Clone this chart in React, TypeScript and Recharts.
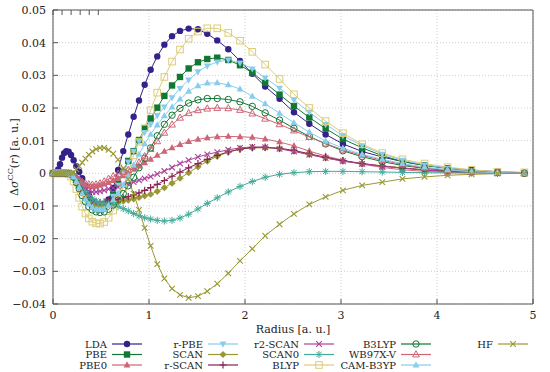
import { CartesianGrid, Line, LineChart, XAxis, YAxis } from "recharts";

// radial grid (a. u.)
const radius = [
  0, 0.018, 0.035, 0.054, 0.073, 0.094, 0.116, 0.138, 0.163, 0.188,
  0.215, 0.243, 0.273, 0.304, 0.338, 0.373, 0.41, 0.449, 0.49, 0.533,
  0.579, 0.627, 0.678, 0.732, 0.784, 0.84, 0.896, 0.955, 1.017, 1.086,
  1.16, 1.24, 1.323, 1.413, 1.51, 1.607, 1.711, 1.826, 1.948, 2.076,
  2.21, 2.36, 2.51, 2.67, 2.84, 3.02, 3.22, 3.43, 3.64, 3.87,
  4.11, 4.36, 4.63, 4.91
];

const lda = [
  0, 0, 0.0003, 0.0012, 0.0028, 0.0048, 0.0062, 0.0068, 0.0066, 0.0056,
  0.004, 0.0022, 0.0005, -0.0015, -0.004, -0.0065, -0.0085, -0.0098, -0.0103, -0.0098,
  -0.008, -0.0045, 0.001, 0.0068, 0.0119, 0.0173, 0.0223, 0.0271, 0.0317, 0.0358,
  0.0394, 0.042, 0.0436, 0.0443, 0.0441, 0.0427, 0.0407, 0.038, 0.0344, 0.0305,
  0.0266, 0.0228, 0.0187, 0.0152, 0.0119, 0.009, 0.0067, 0.005, 0.0036, 0.0025,
  0.0016, 0.001, 0.0005, 0.0002
];
const pbe = [
  0, 0, 0, 0, 0, 0, 0, 0, 0, -0.0003,
  -0.001, -0.0023, -0.004, -0.0058, -0.0074, -0.0088, -0.0097, -0.0103, -0.0105, -0.0102,
  -0.0088, -0.0065, -0.0032, 0.0005, 0.0038, 0.0068, 0.0102, 0.0137, 0.0168, 0.0201,
  0.0237, 0.0269, 0.0295, 0.0321, 0.034, 0.035, 0.0354, 0.0347, 0.0331, 0.0308,
  0.0277, 0.0241, 0.0206, 0.0171, 0.0137, 0.0105, 0.0078, 0.0054, 0.0036, 0.0024,
  0.0015, 0.0008, 0.0004, 0.0001
];
const pbe0 = [
  0, 0, 0, 0, 0, 0, 0, 0, 0, -0.0002,
  -0.0007, -0.0014, -0.0022, -0.003, -0.0036, -0.004, -0.0041, -0.004, -0.0037, -0.0033,
  -0.0028, -0.0022, -0.0015, -0.0008, 0.0001, 0.0012, 0.0022, 0.0032, 0.0043, 0.0055,
  0.0067, 0.0078, 0.0088, 0.0097, 0.0104, 0.0109, 0.0112, 0.0113, 0.0112, 0.011,
  0.0105, 0.0096, 0.0084, 0.0068, 0.0053, 0.004, 0.0028, 0.0018, 0.0011, 0.0006,
  0.0003, 0.0002, 0.0001, 0
];
const rPbe = [
  0, 0, 0, 0, 0, 0, 0, 0, 0, -0.0003,
  -0.0011, -0.0025, -0.0043, -0.0062, -0.0079, -0.0093, -0.0103, -0.0109, -0.0111, -0.0107,
  -0.0093, -0.007, -0.0036, 0.0002, 0.0035, 0.0068, 0.0098, 0.0125, 0.015, 0.0177,
  0.0203, 0.0232, 0.026, 0.0286, 0.0311, 0.0329, 0.0341, 0.0347, 0.0338, 0.032,
  0.0292, 0.0261, 0.0225, 0.0187, 0.015, 0.0115, 0.0085, 0.0059, 0.004, 0.0026,
  0.0016, 0.0009, 0.0004, 0.0001
];
const scan = [
  0, 0, 0, 0, 0, 0, 0, 0, 0, -0.0003,
  -0.001, -0.0022, -0.0037, -0.0053, -0.0068, -0.0081, -0.009, -0.0096, -0.0098, -0.0097,
  -0.0094, -0.0091, -0.0088, -0.0085, -0.0082, -0.0078, -0.0074, -0.0069, -0.0064, -0.0055,
  -0.0044, -0.003, -0.0015, 0.0002, 0.002, 0.0037, 0.0052, 0.0065, 0.0074, 0.0078,
  0.0078, 0.0075, 0.0068, 0.0058, 0.0047, 0.0038, 0.003, 0.0023, 0.0017, 0.0011,
  0.0007, 0.0004, 0.0002, 0
];
const rScan = [
  0, 0, 0, 0, 0, 0, 0, 0, 0, -0.0003,
  -0.001, -0.0021, -0.0035, -0.005, -0.0063, -0.0074, -0.0082, -0.0087, -0.0089, -0.0088,
  -0.0085, -0.0082, -0.0079, -0.0075, -0.0071, -0.0066, -0.006, -0.0052, -0.0044, -0.0034,
  -0.0022, -0.0009, 0.0004, 0.0017, 0.003, 0.0043, 0.0055, 0.0066, 0.0074, 0.0079,
  0.008, 0.0077, 0.007, 0.006, 0.0049, 0.0039, 0.003, 0.0022, 0.0016, 0.001,
  0.0006, 0.0003, 0.0001, 0
];
const r2Scan = [
  0, 0, 0, 0, 0, 0, 0, 0, 0, -0.0002,
  -0.0008, -0.0017, -0.0028, -0.0039, -0.0048, -0.0054, -0.0057, -0.0057, -0.0055, -0.0052,
  -0.0048, -0.0045, -0.0042, -0.0038, -0.0033, -0.0027, -0.0021, -0.0016, -0.001, -0.0002,
  0.0007, 0.0018, 0.003, 0.004, 0.005, 0.0058, 0.0065, 0.0072, 0.0078, 0.0081,
  0.008, 0.0075, 0.0067, 0.0057, 0.0047, 0.0037, 0.0029, 0.0022, 0.0016, 0.001,
  0.0006, 0.0003, 0.0001, 0
];
const scan0 = [
  0, 0, 0, 0, 0, 0, 0, 0, 0, -0.0002,
  -0.0006, -0.0015, -0.0028, -0.0042, -0.0056, -0.0068, -0.0078, -0.0085, -0.009, -0.0092,
  -0.0094, -0.0097, -0.0102, -0.0108, -0.0115, -0.0123, -0.013, -0.0136, -0.014, -0.0144,
  -0.0146, -0.0144, -0.0137, -0.0125, -0.0109, -0.0092, -0.0075, -0.0057, -0.004, -0.0025,
  -0.0012, -0.0003, 0.0002, 0.0005, 0.0006, 0.0006, 0.0005, 0.0004, 0.0003, 0.0002,
  0.0001, 0.0001, 0, 0
];
const blyp = [
  0, 0, 0, 0, 0, 0, 0, 0, -0.0003, -0.001,
  -0.0025, -0.0048, -0.0075, -0.0102, -0.0123, -0.0138, -0.0148, -0.0153, -0.0154, -0.0149,
  -0.0136, -0.0114, -0.0082, -0.0042, 0.0005, 0.0055, 0.0097, 0.0138, 0.0193, 0.0247,
  0.0295, 0.0342, 0.0379, 0.0412, 0.0434, 0.0444, 0.0444, 0.043, 0.0406, 0.0372,
  0.0333, 0.0289, 0.0242, 0.02, 0.016, 0.0123, 0.0089, 0.0062, 0.0043, 0.003,
  0.0019, 0.0011, 0.0005, 0.0003
];
const b3lyp = [
  0, 0, 0, 0, 0, 0, 0, 0, 0, -0.0003,
  -0.0012, -0.0028, -0.0047, -0.0068, -0.0087, -0.0102, -0.0112, -0.0118, -0.012, -0.0118,
  -0.011, -0.0097, -0.0082, -0.0062, -0.0038, -0.0012, 0.0017, 0.0046, 0.0078, 0.0115,
  0.015, 0.0178, 0.0199, 0.0215, 0.0225, 0.0229, 0.0229, 0.0226, 0.0219, 0.0205,
  0.0185, 0.0163, 0.0138, 0.0113, 0.009, 0.0069, 0.0051, 0.0036, 0.0024, 0.0015,
  0.0009, 0.0005, 0.0002, 0
];
const wb97xv = [
  0, 0, 0, 0, 0, 0, 0, 0, 0, -0.0002,
  -0.0006, -0.0012, -0.0019, -0.0026, -0.0031, -0.0034, -0.0035, -0.0034, -0.0031, -0.0025,
  -0.0017, -0.0009, -0.0002, 0.0004, 0.001, 0.0019, 0.0033, 0.0052, 0.0074, 0.0098,
  0.0124, 0.0149, 0.017, 0.0184, 0.0193, 0.0198, 0.02, 0.0199, 0.0194, 0.0183,
  0.0167, 0.015, 0.0131, 0.0111, 0.0091, 0.0072, 0.0055, 0.004, 0.0027, 0.0017,
  0.001, 0.0005, 0.0002, 0
];
const camB3yp = [
  0, 0, 0, 0, 0, 0, 0, 0, 0, -0.0003,
  -0.0011, -0.0025, -0.0043, -0.0062, -0.0079, -0.0094, -0.0104, -0.011, -0.0112, -0.011,
  -0.0099, -0.0082, -0.0061, -0.0035, -0.0008, 0.0025, 0.0058, 0.009, 0.0119, 0.0148,
  0.0176, 0.0203, 0.0227, 0.0251, 0.0268, 0.0276, 0.0277, 0.0271, 0.0258, 0.0236,
  0.0213, 0.0184, 0.0155, 0.0126, 0.0099, 0.0077, 0.0058, 0.0043, 0.003, 0.0019,
  0.0011, 0.0005, 0.0002, 0
];
const hf = [
  0, 0, 0, 0, 0, 0, 0, 0, 0, 0,
  0.0003, 0.0012, 0.0022, 0.0033, 0.0045, 0.0057, 0.0067, 0.0074, 0.0078, 0.0078,
  0.0072, 0.006, 0.0042, 0.0015, -0.0018, -0.0062, -0.0112, -0.0167, -0.0222, -0.0278,
  -0.0322, -0.0353, -0.0372, -0.0381, -0.0376, -0.0361, -0.0338, -0.0306, -0.0268, -0.0231,
  -0.0191, -0.0156, -0.0124, -0.0095, -0.0072, -0.0052, -0.0037, -0.0027, -0.0017, -0.0011,
  -0.0006, -0.0003, -0.0001, 0
];

const xTicks = [0, 1, 2, 3, 4, 5];
const yTicks = [-0.04, -0.03, -0.02, -0.01, 0, 0.01, 0.02, 0.03, 0.04, 0.05];

type Shape =
  | "circle"
  | "square"
  | "triUp"
  | "triDown"
  | "diamond"
  | "plus"
  | "cross"
  | "star"
  | "openSquare"
  | "openCircle"
  | "openTri";

const series: { key: string; values: number[]; color: string; shape: Shape }[] = [
  { key: "LDA", values: lda, color: "#332288", shape: "circle" },
  { key: "PBE", values: pbe, color: "#117733", shape: "square" },
  { key: "PBE0", values: pbe0, color: "#CC6677", shape: "triUp" },
  { key: "r-PBE", values: rPbe, color: "#88CCEE", shape: "triDown" },
  { key: "SCAN", values: scan, color: "#999933", shape: "diamond" },
  { key: "r-SCAN", values: rScan, color: "#882255", shape: "plus" },
  { key: "r2-SCAN", values: r2Scan, color: "#AA4499", shape: "cross" },
  { key: "SCAN0", values: scan0, color: "#44AA99", shape: "star" },
  { key: "BLYP", values: blyp, color: "#DDCC77", shape: "openSquare" },
  { key: "B3LYP", values: b3lyp, color: "#117733", shape: "openCircle" },
  { key: "WB97X-V", values: wb97xv, color: "#CC6677", shape: "openTri" },
  { key: "CAM-B3YP", values: camB3yp, color: "#88CCEE", shape: "triUp" },
  { key: "HF", values: hf, color: "#999933", shape: "cross" }
];

const data = radius.map((r, i) => {
  const row: Record<string, number> = { r };
  series.forEach((s) => {
    row[s.key] = s.values[i];
  });
  return row;
});

const FONT = '"DejaVu Serif", "Liberation Serif", serif';

const formatY = (v: number) => {
  if (Math.abs(v) < 1e-9) return "0";
  return (v < 0 ? "\u2212" : "") + Math.abs(v).toFixed(2);
};

function marker(shape: Shape, color: string, cx: number, cy: number, key: string) {
  switch (shape) {
    case "circle":
      return <circle key={key} cx={cx} cy={cy} r={3.2} fill={color} />;
    case "square":
      return <rect key={key} x={cx - 3.2} y={cy - 3.2} width={6.4} height={6.4} fill={color} />;
    case "triUp":
      return (
        <polygon
          key={key}
          points={`${cx},${cy - 3.8} ${cx - 3.4},${cy + 2.4} ${cx + 3.4},${cy + 2.4}`}
          fill={color}
        />
      );
    case "triDown":
      return (
        <polygon
          key={key}
          points={`${cx},${cy + 3.8} ${cx - 3.4},${cy - 2.4} ${cx + 3.4},${cy - 2.4}`}
          fill={color}
        />
      );
    case "diamond":
      return (
        <polygon
          key={key}
          points={`${cx},${cy - 3.6} ${cx + 3.6},${cy} ${cx},${cy + 3.6} ${cx - 3.6},${cy}`}
          fill={color}
        />
      );
    case "plus":
      return (
        <path
          key={key}
          d={`M${cx - 3.6},${cy}H${cx + 3.6}M${cx},${cy - 3.6}V${cy + 3.6}`}
          stroke={color}
          strokeWidth={1.2}
        />
      );
    case "cross":
      return (
        <path
          key={key}
          d={`M${cx - 2.8},${cy - 2.8}L${cx + 2.8},${cy + 2.8}M${cx - 2.8},${cy + 2.8}L${cx + 2.8},${cy - 2.8}`}
          stroke={color}
          strokeWidth={1.1}
        />
      );
    case "star":
      return (
        <path
          key={key}
          d={`M${cx - 3.6},${cy}H${cx + 3.6}M${cx},${cy - 3.6}V${cy + 3.6}M${cx - 2.6},${cy - 2.6}L${cx + 2.6},${cy + 2.6}M${cx - 2.6},${cy + 2.6}L${cx + 2.6},${cy - 2.6}`}
          stroke={color}
          strokeWidth={1}
        />
      );
    case "openSquare":
      return (
        <rect
          key={key}
          x={cx - 3.3}
          y={cy - 3.3}
          width={6.6}
          height={6.6}
          fill="none"
          stroke={color}
          strokeWidth={1}
        />
      );
    case "openCircle":
      return <circle key={key} cx={cx} cy={cy} r={3.2} fill="none" stroke={color} strokeWidth={1} />;
    case "openTri":
      return (
        <polygon
          key={key}
          points={`${cx},${cy - 3.8} ${cx - 3.4},${cy + 2.4} ${cx + 3.4},${cy + 2.4}`}
          fill="none"
          stroke={color}
          strokeWidth={1}
        />
      );
    default:
      return <g key={key} />;
  }
}

// legend: 3 rows, column-major, text right-aligned before the sample
const legendRows = [344, 354.5, 365];
const legendCols = [107, 203, 299, 396, 493];

function Overlay() {
  const txt = { fontFamily: FONT, fontSize: 12, fill: "#222" };
  return (
    <svg
      width={550}
      height={372}
      style={{ position: "absolute", left: 0, top: 0, pointerEvents: "none" }}
    >
      <text
        transform="translate(14,157) rotate(-90)"
        textAnchor="middle"
        dy="0.35em"
        style={{ ...txt, fontSize: 11 }}
      >
        <tspan>Δ</tspan>
        <tspan fontStyle="italic">σ</tspan>
        <tspan fontSize={8} dy={-4.5}>CC</tspan>
        <tspan dy={4.5}>(</tspan>
        <tspan fontStyle="italic">r</tspan>
        <tspan>) [a. u.]</tspan>
      </text>
      <text x={293} y={333} textAnchor="middle" style={{ ...txt, fontSize: 11 }}>
        Radius [a. u.]
      </text>
      {series.map((s, i) => {
        const col = Math.floor(i / 3);
        const y = legendRows[i % 3];
        const right = legendCols[col];
        return (
          <g key={s.key}>
            <text x={right} y={y + 3.5} textAnchor="end" style={{ ...txt, fontSize: 10 }}>
              {s.key}
            </text>
            <line x1={right + 5} x2={right + 35} y1={y} y2={y} stroke={s.color} strokeWidth={1.2} />
            {marker(s.shape, s.color, right + 20, y, `lg-${s.key}`)}
          </g>
        );
      })}
    </svg>
  );
}

export default function App() {
  const tickStyle = { fontSize: 11, fill: "#222", style: { fontFamily: FONT } };
  return (
    <div
      style={{
        position: "absolute",
        left: 0,
        top: 0,
        width: 550,
        height: 372,
        background: "#fff",
        fontFamily: FONT
      }}
    >
      <LineChart
        width={550}
        height={372}
        data={data}
        margin={{ top: 0, right: 0, bottom: 0, left: 0 }}
        style={{ fontFamily: FONT }}
      >
        <CartesianGrid stroke="#cfcfcf" strokeDasharray="1 2" />
        <XAxis
          dataKey="r"
          type="number"
          domain={[0, 5]}
          ticks={xTicks}
          interval={0}
          height={68}
          tickSize={-5}
          tickMargin={12}
          tick={tickStyle}
          axisLine={{ stroke: "#555" }}
          tickLine={{ stroke: "#555" }}
        />
        <XAxis
          xAxisId="top"
          orientation="top"
          type="number"
          domain={[0, 5]}
          ticks={xTicks}
          interval={0}
          height={10}
          tickSize={-5}
          tickFormatter={() => ""}
          axisLine={{ stroke: "#555" }}
          tickLine={{ stroke: "#555" }}
        />
        <YAxis
          type="number"
          domain={[-0.04, 0.05]}
          ticks={yTicks}
          interval={0}
          width={53}
          tickSize={-5}
          tickMargin={12}
          tickFormatter={formatY}
          tick={tickStyle}
          axisLine={{ stroke: "#555" }}
          tickLine={{ stroke: "#555" }}
        />
        <YAxis
          yAxisId="right"
          orientation="right"
          type="number"
          domain={[-0.04, 0.05]}
          ticks={yTicks}
          interval={0}
          width={17}
          tickSize={-5}
          tickFormatter={() => ""}
          axisLine={{ stroke: "#555" }}
          tickLine={{ stroke: "#555" }}
        />
        {series.map((s) => (
          <Line
            key={s.key}
            dataKey={s.key}
            type="linear"
            stroke={s.color}
            strokeWidth={1}
            isAnimationActive={false}
            activeDot={false}
            dot={(p: any) => marker(s.shape, s.color, p.cx, p.cy, `${s.key}-${p.index}`)}
          />
        ))}
      </LineChart>
      <Overlay />
    </div>
  );
}
